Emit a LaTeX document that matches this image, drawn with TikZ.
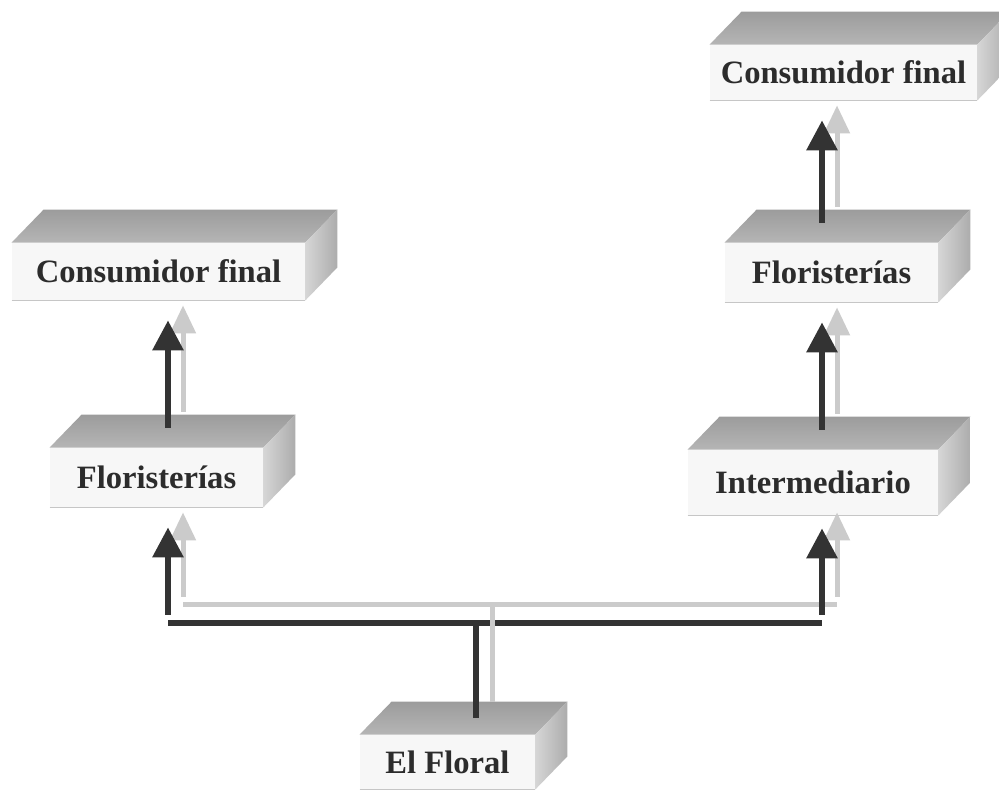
\documentclass[tikz,border=0pt]{standalone}
\usepackage{fontspec}
\setmainfont{Liberation Serif}
\usetikzlibrary{arrows.meta,calc}

\definecolor{inkdark}{HTML}{333333}
\definecolor{inkgrey}{HTML}{CBCBCB}
\definecolor{faceback}{HTML}{9C9C9C}
\definecolor{facefront}{HTML}{B5B5B5}
\definecolor{sidelight}{HTML}{D6D6D6}
\definecolor{sidedark}{HTML}{ACACAC}
\definecolor{frontface}{HTML}{F7F7F7}
\definecolor{textdark}{HTML}{2C2C2C}

\begin{document}
\begin{tikzpicture}[x=0.5pt,y=0.5pt,
    slab/.style={fill=frontface, inner sep=0pt, text=textdark,
      font=\fontsize{16.3}{19}\selectfont\bfseries},
    topface/.style={top color=faceback, bottom color=facefront},
    sideface/.style={left color=sidelight, right color=sidedark},
    darkarrow/.style={draw=inkdark, line width=3pt, -{Triangle[width=15pt,length=15pt]}},
    greyarrow/.style={draw=inkgrey, line width=2.5pt, -{Triangle[width=12.5pt,length=14pt]}},
    darkline/.style={draw=inkdark, line width=3pt},
    greyline/.style={draw=inkgrey, line width=2.5pt}]

    \useasboundingbox[fill=white] (0,0) rectangle (999,790);

    % Boxes (front faces)
    \node[slab, minimum width=146.5pt, minimum height=28.5pt] (c1) at (158.5,518.5) {Consumidor final};
    \node[slab, minimum width=106.5pt, minimum height=29.5pt] (f1) at (156.5,312.5) {Floristerías};
    \node[slab, minimum width=133.5pt, minimum height=27.5pt] (c2) at (843.5,717.5) {Consumidor final};
    \node[slab, minimum width=106.5pt, minimum height=29.5pt] (f2) at (831.5,517.5) {Floristerías};
    \node[slab, minimum width=125pt, minimum height=32.5pt] (im) at (813,307.5) {Intermediario};
    \node[slab, minimum width=87.5pt, minimum height=27pt] (ef) at (447.5,28) {El Floral};

    % Top and side faces
    \foreach \n in {c1,f1,c2,f2,im,ef} {
      \shade[topface] (\n.north west) -- ($(\n.north west)+(32,33)$) -- ($(\n.north east)+(32,33)$) -- (\n.north east) -- cycle;
      \shade[sideface] (\n.north east) -- ($(\n.north east)+(32,33)$) -- ($(\n.south east)+(32,33)$) -- (\n.south east) -- cycle;
      \draw[gray!45, line width=0.6pt] (\n.south west) -- (\n.south east);
    }

    % Columns and bus
    \coordinate (colL) at (168,0);
    \coordinate (colR) at (822,0);
    \coordinate (colLg) at (183,0);
    \coordinate (colRg) at (837,0);
    \coordinate (bus) at (476,167);
    \coordinate (busg) at (492,185);

    % Light arrows
    \draw[greyline] (busg -| colLg) -- (busg -| colRg);
    \foreach \src/\tgt/\col in {f1/c1/colLg, im/f2/colRg, f2/c2/colRg}
      \draw[greyarrow] ($(\src.north -| \col)+(0,36)$) -- ($(\tgt.south -| \col)+(0,-5)$);
    \foreach \tgt/\col/\off in {f1/colLg/-5, im/colRg/3}
      \draw[greyarrow] ($(busg -| \col)+(0,8)$) -- ($(\tgt.south -| \col)+(0,\off)$);

    % Dark arrows
    \draw[darkline] (bus -| colL) -- (bus -| colR);
    \draw[darkline] (bus) -- ($(ef.north -| bus)+(0,17)$);
    \foreach \src/\tgt/\col in {f1/c1/colL, im/f2/colR, f2/c2/colR}
      \draw[darkarrow] ($(\src.north -| \col)+(0,20)$) -- ($(\tgt.south -| \col)+(0,-20)$);
    \foreach \tgt/\col/\off in {f1/colL/-20, im/colR/-13}
      \draw[darkarrow] ($(bus -| \col)+(0,8)$) -- ($(\tgt.south -| \col)+(0,\off)$);

    \draw[greyline] (busg) -- ($(ef.north -| busg)+(0,33)$);

\end{tikzpicture}
\end{document}
